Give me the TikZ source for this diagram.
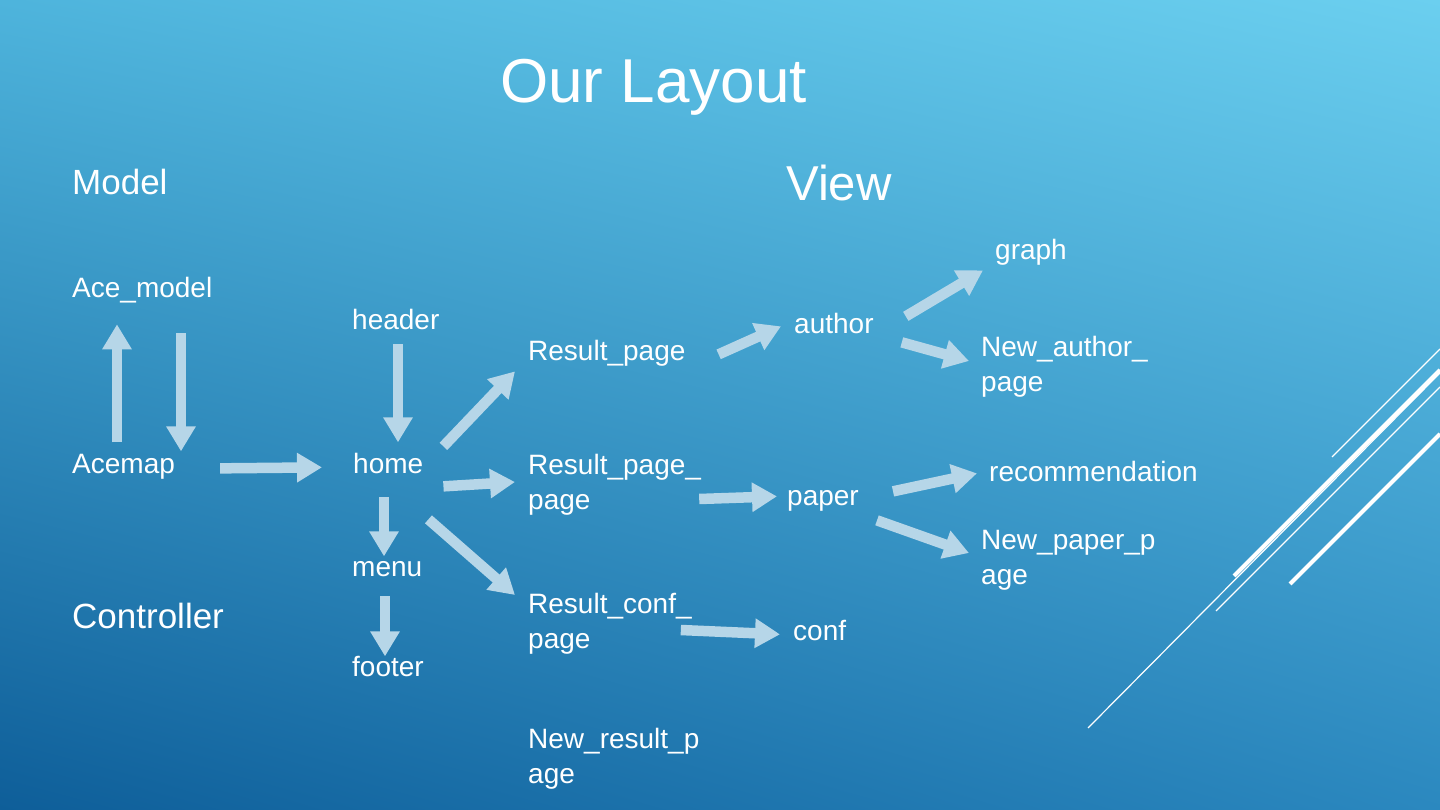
\documentclass[tikz,border=0pt]{standalone}
\usepackage{fontspec}
\setmainfont{Liberation Sans}
\usetikzlibrary{arrows.meta,shadings}
\definecolor{bgtl}{RGB}{78,180,220}
\definecolor{bgtr}{RGB}{107,207,239}
\definecolor{bgbl}{RGB}{14,94,153}
\definecolor{bgbr}{RGB}{43,136,191}
\definecolor{arrcol}{RGB}{182,214,232}

\begin{document}
\begin{tikzpicture}[x=1pt, y=-1pt,
  lbl/.style={inner sep=0pt, text=white, font=\fontsize{28}{35}\selectfont, anchor=base west},
  lbltwo/.style={inner sep=0pt, text=white, font=\fontsize{28}{35}\selectfont, align=left, anchor=west},
  blk/.style={-{Triangle[width=28pt,length=25pt]}, line width=10.5pt, draw=arrcol},
  deco/.style={draw=white, line width=#1},
]
\useasboundingbox (0,0) rectangle (1440,810);
\shade[upper left=bgtl, upper right=bgtr, lower left=bgbl, lower right=bgbr] (0,0) rectangle (1440,810);

\draw[deco=1.2pt] (1332,457) -- (1440,349);
\draw[deco=4pt] (1234,576) -- (1440,370);
\draw[deco=1.2pt] (1088,728) -- (1440,373);
\draw[deco=1.2pt] (1216,611) -- (1440,387);
\draw[deco=4pt] (1290,584) -- (1440,434);

\node[inner sep=0pt, text=white, font=\fontsize{62}{70}\selectfont, anchor=base west] (title) at (500,103) {Our Layout};
\node[inner sep=0pt, text=white, font=\fontsize{49}{56}\selectfont, anchor=base west] (view) at (786,201) {View};
\node[inner sep=0pt, text=white, font=\fontsize{35}{42}\selectfont, anchor=base west] (model) at (72,195) {Model};
\node[inner sep=0pt, text=white, font=\fontsize{35}{42}\selectfont, anchor=base west] (controller) at (72,628) {Controller};

\node[lbl] (acemodel) at (72,298) {Ace\_model};
\node[lbl] (acemap) at (72,473) {Acemap};
\node[lbl] (header) at (352,330) {header};
\node[lbl] (home) at (353,473) {home};
\node[lbl] (menu) at (352,576) {menu};
\node[lbl] (footer) at (352,676) {footer};
\node[lbl] (respage) at (528,360) {Result\_page};
\node[lbltwo] (respp) at (528,484.5) {Result\_page\_\\page};
\node[lbltwo] (resconf) at (528,623.5) {Result\_conf\_\\page};
\node[lbltwo] (newres) at (528,758.5) {New\_result\_p\\age};
\node[lbl] (author) at (794,333) {author};
\node[lbl] (paper) at (787,505) {paper};
\node[lbl] (conf) at (793,640) {conf};
\node[lbl] (graph) at (995,260) {graph};
\node[lbltwo] (newauth) at (981,367) {New\_author\_\\page};
\node[lbl] (recom) at (989,481) {recommendation};
\node[lbltwo] (newpaper) at (981,560) {New\_paper\_p\\age};

\draw[blk] ([shift={(45,-28)}]acemap.mid west) -- ([shift={(45,29)}]acemodel.mid west);
\draw[blk] ([shift={(109,38)}]acemodel.mid west) -- ([shift={(109,-19)}]acemap.mid west);
\draw[blk] ([shift={(45,-2)}]acemap.mid east) -- ([shift={(-31,-3)}]home.mid west);
\draw[blk] ([shift={(46,17)}]header.mid west) -- ([shift={(45,-28)}]home.mid west);
\draw[blk] ([shift={(20,-24)}]home.mid east) -- ([shift={(-13,14)}]respage.mid west);
\draw[blk] ([shift={(20,16)}]home.mid east) -- ([shift={(-13,-2.5)}]respp.west);
\draw[blk] ([shift={(31,27)}]home.mid west) -- ([shift={(32,-17)}]menu.mid west);
\draw[blk] ([shift={(33,23)}]menu.mid west) -- ([shift={(33,-17)}]footer.mid west);
\draw[blk] ([shift={(5,49)}]home.mid east) -- ([shift={(-13,-28.5)}]resconf.west);
\draw[blk] ([shift={(33,-3)}]respage.mid east) -- ([shift={(-13,-4)}]author.mid west);
\draw[blk] ([shift={(-2,14.5)}]respp.east) -- ([shift={(-10,-6)}]paper.mid west);
\draw[blk] ([shift={(-11,6.5)}]resconf.east) -- ([shift={(-13,-3)}]conf.mid west);
\draw[blk] ([shift={(32,-14)}]author.mid east) -- ([shift={(-12,13)}]graph.mid west);
\draw[blk] ([shift={(28,12)}]author.mid east) -- ([shift={(-12,-6)}]newauth.west);
\draw[blk] ([shift={(34,-11)}]paper.mid east) -- ([shift={(-12,-5)}]recom.mid west);
\draw[blk] ([shift={(18,18)}]paper.mid east) -- ([shift={(-12,-7)}]newpaper.west);
\end{tikzpicture}
\end{document}
